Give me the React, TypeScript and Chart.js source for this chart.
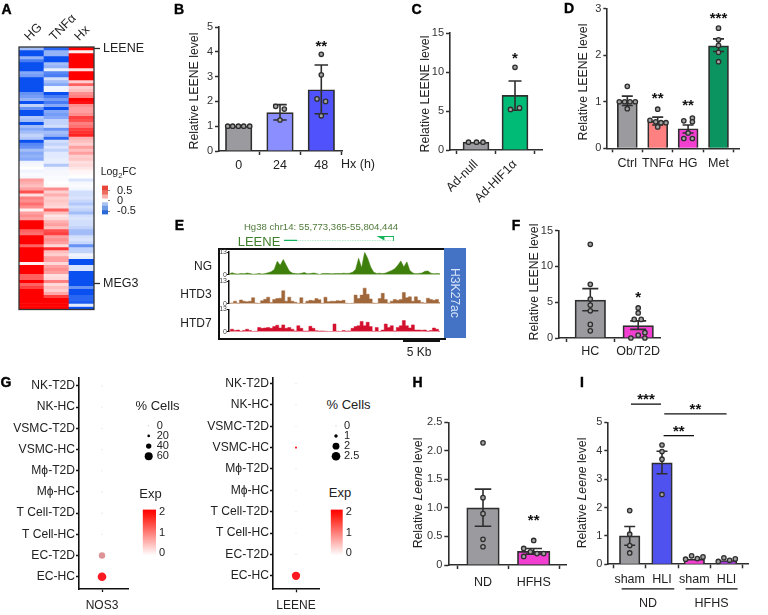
import React, { useEffect, useRef } from "react";
import Chart from "chart.js/auto";

const FONT = '"Liberation Sans", Arial, sans-serif';
Chart.defaults.font.family = FONT;
Chart.defaults.color = "#222";

/* ---------- A: heat map ---------- */
const heatColumns = ["HG", "TNFα", "Hx"];
const heatHG = [-0.3,-0.8,-0.8,-0.35,-0.6,-0.8,-0.85,-0.85,-0.4,-0.45,-0.9,-0.95,-0.95,-0.95,-0.95,-0.5,-0.45,-0.35,-0.85,-0.2,-0.5,-0.95,-0.95,-0.25,-0.3,-0.85,-0.3,-0.4,-0.3,-0.2,-0.25,-0.85,-0.55,-0.5,-0.3,-0.4,-0.35,-0.4,-0.05,-0.03,0,-0.05,-0.02,-0.03,0.3,0.25,0.2,0.3,0.55,0.1,0.4,0.35,0.45,0.35,0.05,0.3,0.35,0.3,0.95,1,0.9,0.5,0.45,1,1,1,0.5,1,1,1,1,0.95,0.05,1,1,1,0.5,0.5,0.85,0.5,0.6,0.8,1,1,1,1,1,1];
const heatTNF = [-0.7,-0.35,-0.35,-0.9,-0.9,-0.3,-0.35,-0.08,-0.55,-0.6,-0.15,-0.3,-0.4,-0.05,-0.05,-0.9,-0.6,-0.45,-0.6,-0.4,-0.8,-0.4,-0.45,-0.4,-0.2,-0.2,-0.15,-0.5,-0.3,-0.35,-0.7,-0.15,-0.2,-0.12,-0.2,-0.1,-0.1,-0.08,-0.08,-0.25,-0.05,-0.03,-0.03,-0.02,-0.02,0,0.02,0.35,0.15,0.25,0.15,0.18,0.15,0.12,0.5,0.2,0.08,0.12,0.25,0.3,0.2,0.55,0.6,0.3,0.35,0.3,0.12,0.65,0.2,0.15,0.3,0.3,0.12,0.3,0.35,0.3,0.1,0.12,0.4,0.12,0.2,0.15,0.28,0.6,1,1,1,1];
const heatHx = [1,0.05,1,1,1,1,0.9,0.1,1,1,0.9,0.15,0.5,0.15,0.2,0.35,0.4,1,0.75,0.35,0.3,0.3,0.35,0.6,0.55,0.4,0.45,0.6,0.65,0.7,0.25,0.2,0.15,0.3,0.2,0.3,0.15,0.18,0.1,0.12,0.08,0.03,0.02,0,-0.12,-0.03,-0.02,-0.04,-0.15,-0.15,-0.12,-0.18,-0.25,-0.15,-0.2,-0.3,-0.15,-0.12,-0.15,-0.15,-0.2,-0.3,-0.3,-0.15,-0.12,-0.18,-0.5,-0.2,-0.2,-0.05,-0.08,-0.95,-0.9,-0.12,-0.12,-1,-1,-1,-1,-1,-0.5,-1,-0.9,-0.7,-0.7,-0.75,-0.1,-0.85];
const heatLabels = ["LEENE", "MEG3"];
const heatLabelRows = [0.4, 79.3];
const fcSteps = [-0.65,-0.47,-0.25,-0.08,0.1,0.3,0.5,0.74];
const fcColors = ["#2a68d8","#6f9ae6","#a9c3f0","#ffffff","#f9b0a8","#ee6b60","#e8453a"];
const fcTicks = [-0.5, 0, 0.5];

/* ---------- B, C, D, F, H, I: bars ---------- */
const bCats = ["0", "24", "48"];
const bMeans = [1, 1.55, 2.47];
const bUpper = [1, 1.87, 3.47];
const bLower = [1, 1.25, 1.5];
const bDots = [[1,1,1,1,1],[1.8,1.69,1.25],[3.9,3.07,2.1,2,1.42]];

const cCats = ["Ad-null", "Ad-HIF1α"];
const cMeans = [1, 7];
const cUpper = [1, 8.85];
const cLower = [1, 5.1];
const cDots = [[1,1,1],[10.6,5.2,5.4]];

const dCats = ["Ctrl", "TNFα", "HG", "Met"];
const dMeans = [1.02, 0.58, 0.42, 2.2];
const dUpper = [1.12, 0.67, 0.5, 2.35];
const dLower = [0.92, 0.5, 0.33, 2.08];
const dDots = [[1.33,1,1,1,1,0.85],[0.84,0.6,0.57,0.55,0.55,0.46],[0.59,0.65,0.57,0.33,0.21,0.21],[2.58,2.33,2.21,2.06,1.86]];

const fCats = ["HC", "Ob/T2D"];
const fMeans = [5.3, 1.72];
const fUpper = [6.9, 2.4];
const fLower = [3.8, 1.2];
const fDots = [[13.1,7.5,5.45,4.6,3.8,1.9,1],[4.2,3.5,2.6,2.6,0.75,0.4,0,0]];

const hCats = ["ND", "HFHS"];
const hMeans = [1, 0.24];
const hUpper = [1.33, 0.29];
const hLower = [0.68, 0.19];
const hDots = [[2.14,1.18,0.9,0.45,0.32],[0.43,0.29,0.15,0.23,0.2,0.2]];

const iCats = ["sham", "HLI", "sham", "HLI"];
const iMeans = [1, 3.57, 0.18, 0.13];
const iUpper = [1.33, 3.98, 0.18, 0.13];
const iLower = [0.67, 3.19, 0.18, 0.13];
const iDots = [[1.89,1.06,0.66,0.4],[4.2,3.97,3.7,2.46],[0.18,0.3,0.2,0.26],[0.1,0.23,0.14,0.19]];

const GRAY = "#9b9b9f";
const PINK = "#f23fd2";

/* ---------- E: tracks ---------- */
const trackNG = [0.3,1.2,0.6,0.4,0.8,0.6,1,0.7,0.3,0.5,0.8,0.4,0.7,1.2,1.8,3,7.8,5.5,8.8,5.5,2.2,1,0.7,0.6,0.9,1.3,0.6,0.7,1,0.8,0.2,0.7,0.8,0.7,0.6,0.7,0.8,0.7,0.9,0.8,0.9,1.5,3,9.5,4,13,9.5,4.5,1.5,0.8,0.9,0.7,1,1.8,2.5,3.5,5.5,8,4.5,7.5,2.5,1,0.6,0.8,1,2,2.2,0.9,0.6,0.8,0.6];
const trackHTD3 = [0.2,0.5,1.5,0.4,2.2,1.5,1.2,1.5,3.5,0.4,0.3,1.8,2.6,3.8,0.8,2.5,3,3.2,7.5,1.5,3.8,1.5,0.9,0.3,3.5,0.2,1.5,2,1.8,3,2.4,0.3,3.8,1.2,1.5,1.4,1.8,1.6,2,0.3,0.2,0.3,5,3,5,9,5.5,2.8,0.4,0.3,3,6,2.5,0.5,1.5,2.5,2,2.5,6.5,3.5,4,1.5,4,2,0.8,0.4,3.2,2.5,2,2.5,0.8];
const trackHTD7 = [0.5,1.5,0.8,1,0.3,0.8,1.5,0.7,0.2,0.3,2.5,2,2.2,2.5,2,3,3.8,2.2,4,2,2.5,1.5,0.5,3.5,2,0.4,0.4,3.2,2,0.6,0.4,0.5,0.3,0.2,0.2,4.5,0.3,0.2,0.7,0.4,0.5,2,3,3.5,6,3.5,5.5,3,0.3,2.5,0.3,1,4.5,2.5,3.5,0.5,2.5,3.5,6.5,3.5,2.2,4,1,1,0.9,1,0.4,0.8,2.2,1.5,0.3];
const trackTicks = [0, 13];
const geneStart = 55773365;
const geneEnd = 55804444;
const geneExonEnd = 55777109;
const geneArrowTip = 55801000;

/* ---------- G: dot plots ---------- */
const dotRows = ["NK-T2D","NK-HC","VSMC-T2D","VSMC-HC","Mϕ-T2D","Mϕ-HC","T Cell-T2D","T Cell-HC","EC-T2D","EC-HC"];
const nos3Pct = [2,1,8,8,2,1,1,1,48,65];
const nos3Exp = [0,0,0,0,0,0,0,0,0.6,1.9];
const leenePct = [0.1,0.1,0.25,0.6,0.2,0.1,0.1,0.1,0.1,2.4];
const leeneExp = [0,0,0,2,0,0,0,0,0,1.9];
const nos3SizeLabels = ["0","20","40","60"];
const nos3SizeValues = [0,20,40,60];
const leeneSizeLabels = ["0","1","2","2.5"];
const leeneSizeValues = [0,1,2,2.5];
const expTicks = [0,1,2];

/* ---------- helpers ---------- */
const lerp = (a: number[], b: number[], t: number) =>
  `rgb(${a.map((v, i) => Math.round(v + (b[i] - v) * t)).join(",")})`;
const heatColor = (v: number) => {
  const t = Math.min(Math.abs(v) / 0.8, 1);
  return v >= 0 ? lerp([255,255,255],[255,0,0],t) : lerp([255,255,255],[10,80,240],t);
};
const expColor = (v: number) => {
  const t = Math.min(v / 2, 1);
  return t === 0 ? "#dcdcdc" : lerp([205,205,205],[255,16,24],t);
};

type R = { l: number; t: number; r: number; b: number };
const DARK = "#2e2e2e";
const noScale = { display: false };

const fitW = (w: number) => (s: any) => { s.width = w; };
const fitH = (h: number) => (s: any) => { s.height = h; };

type Part = { t: string; i?: boolean };
type BarSpec = {
  rect: R; plot: R; cats: string[]; centers: number[]; barW: number;
  means: number[]; upper: number[]; lower: number[]; dots: number[][]; jitter: number[][];
  colors: string[]; yMax: number; yStep: number; ylabel: Part[]; ylabelAt: number[];
  stars: { cat: number; value: number; text: string }[]; cap: number; rot?: number; xPad?: number;
  brackets?: { from: number; to: number; value: number; text: string }[];
  groups?: { from: number; to: number; text: string }[];
};

function drawParts(ctx: any, parts: Part[], cx: number, cy: number, size: number) {
  ctx.save();
  ctx.translate(cx, cy);
  ctx.rotate(-Math.PI / 2);
  ctx.fillStyle = "#222";
  ctx.textBaseline = "middle";
  ctx.textAlign = "left";
  const fonts = parts.map(p => `${p.i ? "italic " : ""}${size}px ${FONT}`);
  let total = 0;
  parts.forEach((p, i) => { ctx.font = fonts[i]; total += ctx.measureText(p.t).width; });
  let x = -total / 2;
  parts.forEach((p, i) => { ctx.font = fonts[i]; ctx.fillText(p.t, x, 0); x += ctx.measureText(p.t).width; });
  ctx.restore();
}

function barConfig(s: BarSpec) {
  const sp = s.centers.length > 1 ? s.centers[1] - s.centers[0] : 40;
  const c0 = s.centers[0];
  const H = s.rect.b - s.rect.t;
  const toX = (px: number) => (px - c0) / sp;
  const decor = {
    id: "decor",
    afterDatasetDraw(chart: any, args: any) {
      if (args.meta.type !== "bar") return;
      const { ctx, scales: { x, y } } = chart;
      ctx.save();
      ctx.strokeStyle = DARK;
      ctx.lineWidth = 1.6;
      s.means.forEach((_, i) => {
        if (s.upper[i] === s.lower[i]) return;
        const px = x.getPixelForValue(i);
        const u = y.getPixelForValue(s.upper[i]);
        const m = y.getPixelForValue(s.lower[i]);
        ctx.beginPath();
        ctx.moveTo(px, u); ctx.lineTo(px, m);
        ctx.moveTo(px - s.cap / 2, u); ctx.lineTo(px + s.cap / 2, u);
        ctx.moveTo(px - s.cap / 2, m); ctx.lineTo(px + s.cap / 2, m);
        ctx.stroke();
      });
      ctx.restore();
    },
    afterDraw(chart: any) {
      const { ctx, scales: { x, y } } = chart;
      drawParts(ctx, s.ylabel, s.ylabelAt[0] - s.rect.l, s.ylabelAt[1] - s.rect.t, 12.3);
      ctx.save();
      ctx.fillStyle = "#111";
      ctx.textAlign = "center";
      ctx.textBaseline = "middle";
      ctx.font = `bold 15px ${FONT}`;
      s.stars.forEach(st => ctx.fillText(st.text, x.getPixelForValue(st.cat), y.getPixelForValue(st.value) + 3));
      ctx.strokeStyle = "#111";
      ctx.lineWidth = 1.3;
      (s.brackets || []).forEach(b => {
        const py = y.getPixelForValue(b.value);
        const a = x.getPixelForValue(b.from), e = x.getPixelForValue(b.to);
        ctx.beginPath(); ctx.moveTo(a, py); ctx.lineTo(e, py); ctx.stroke();
        ctx.fillText(b.text, (a + e) / 2, py - 4);
      });
      ctx.font = `12.5px ${FONT}`;
      ctx.fillStyle = "#222";
      (s.groups || []).forEach(g => {
        const py = y.getPixelForValue(0) + 24.5;
        const a = x.getPixelForValue(g.from), e = x.getPixelForValue(g.to);
        ctx.beginPath(); ctx.moveTo(a, py); ctx.lineTo(e, py); ctx.stroke();
        ctx.fillText(g.text, (a + e) / 2, py + 15);
      });
      ctx.restore();
    },
  };
  const dotData: any[] = [];
  s.dots.forEach((arr, i) => arr.forEach((v, j) => dotData.push({ x: i + s.jitter[i][j] / sp, y: v })));
  return {
    type: "bar",
    plugins: [decor],
    data: {
      datasets: [
        {
          type: "scatter", order: 0, clip: false, data: dotData,
          pointRadius: 2.2, pointBackgroundColor: "#a3a3a3", pointBorderColor: DARK, pointBorderWidth: 1.3,
        },
        {
          type: "bar", order: 1, clip: false, grouped: false, barThickness: s.barW,
          data: s.means.map((m, i) => ({ x: i, y: m })),
          backgroundColor: s.colors, borderColor: DARK, borderWidth: 1.7,
        },
      ],
    },
    options: {
      animation: false, responsive: false, events: [],
      layout: { padding: { top: s.plot.t - s.rect.t, right: s.rect.r - s.plot.r, left: 0, bottom: 0 } },
      plugins: { legend: { display: false }, tooltip: { enabled: false } },
      scales: {
        x: {
          type: "linear", offset: false, min: toX(s.plot.l), max: toX(s.plot.r),
          afterFit: fitH(H - (s.plot.b - s.rect.t)),
          afterBuildTicks: (a: any) => { a.ticks = s.cats.map((_, i) => ({ value: i })); },
          border: { color: DARK, width: 1.6 },
          grid: { drawOnChartArea: false, tickLength: 4, tickWidth: 1.5, tickColor: DARK },
          ticks: {
            autoSkip: false, minRotation: s.rot || 0, maxRotation: s.rot || 0, padding: s.xPad ?? 3,
            font: { size: 12.5 }, color: "#222",
            callback: (v: number) => s.cats[v],
          },
        },
        y: {
          min: 0, max: s.yMax,
          afterFit: fitW(s.plot.l - s.rect.l),
          border: { color: DARK, width: 1.6 },
          grid: { drawOnChartArea: false, tickLength: 4, tickWidth: 1.5, tickColor: DARK },
          ticks: { stepSize: s.yStep, padding: 2, font: { size: 11 }, color: "#333" },
        },
      },
    },
  };
}

function heatConfig(rect: R, plot: R) {
  const frame = {
    id: "frame",
    afterDraw(chart: any) {
      const { ctx, chartArea: a } = chart;
      ctx.save();
      ctx.strokeStyle = "#333";
      ctx.lineWidth = 1.3;
      ctx.strokeRect(a.left, a.top, a.right - a.left, a.bottom - a.top);
      ctx.restore();
    },
  };
  return {
    type: "bar",
    plugins: [frame],
    data: {
      labels: heatColumns,
      datasets: heatHG.map((_, r) => ({
        data: heatColumns.map(() => 1),
        backgroundColor: [heatColor(heatHG[r]), heatColor(heatTNF[r]), heatColor(heatHx[r])],
        barPercentage: 1, categoryPercentage: 1, borderWidth: 0,
      })),
    },
    options: {
      animation: false, responsive: false, events: [],
      layout: { padding: { left: plot.l - rect.l, bottom: rect.b - plot.b, top: 0, right: 0 } },
      plugins: { legend: { display: false }, tooltip: { enabled: false } },
      scales: {
        x: {
          position: "top", stacked: true,
          afterFit: fitH(plot.t - rect.t),
          border: { display: false }, grid: { display: false, drawTicks: false },
          ticks: { minRotation: 45, maxRotation: 45, autoSkip: false, padding: 3, labelOffset: 6, font: { size: 12.5 }, color: "#222" },
        },
        y: {
          position: "right", stacked: true, reverse: true, min: 0, max: heatHG.length,
          afterFit: fitW(rect.r - plot.r),
          afterBuildTicks: (a: any) => { a.ticks = heatLabelRows.map(value => ({ value })); },
          border: { display: false },
          grid: { drawOnChartArea: false, tickLength: 6, tickWidth: 1.3, tickColor: DARK },
          ticks: {
            autoSkip: false, padding: 3, font: { size: 12.5 }, color: "#222",
            callback: (v: number) => heatLabels[heatLabelRows.indexOf(v)],
          },
        },
      },
    },
  };
}

function fcBarConfig(rect: R, plot: R) {
  return {
    type: "bar",
    data: {
      labels: [""],
      datasets: fcColors.map((c, i) => ({
        data: [[fcSteps[i], fcSteps[i + 1]]], backgroundColor: c, grouped: false,
        barPercentage: 1, categoryPercentage: 1, borderWidth: 0,
      })),
    },
    options: {
      animation: false, responsive: false, events: [],
      layout: { padding: { left: plot.l - rect.l, top: plot.t - rect.t, bottom: rect.b - plot.b, right: 0 } },
      plugins: { legend: { display: false }, tooltip: { enabled: false } },
      scales: {
        x: noScale,
        y: {
          position: "right", min: fcSteps[0], max: fcSteps[fcSteps.length - 1],
          afterFit: fitW(rect.r - plot.r),
          afterBuildTicks: (a: any) => { a.ticks = fcTicks.map(value => ({ value })); },
          border: { display: false },
          grid: { drawOnChartArea: false, tickLength: 2, tickWidth: 1, tickColor: "#888" },
          ticks: { padding: 7, font: { size: 11 }, color: "#222", callback: (v: number) => String(v) },
        },
      },
    },
  };
}

function trackConfig(rect: R, plot: R, values: number[], color: string, stepped: any) {
  return {
    type: "line",
    data: {
      datasets: [{
        data: values.map((y, x) => ({ x, y })), fill: "origin", backgroundColor: color, borderColor: color,
        borderWidth: 0.5, pointRadius: 0, tension: 0, stepped,
      }],
    },
    options: {
      animation: false, responsive: false, events: [],
      layout: { padding: { top: plot.t - rect.t, bottom: rect.b - plot.b, right: rect.r - plot.r, left: 0 } },
      plugins: { legend: { display: false }, tooltip: { enabled: false } },
      scales: {
        x: { type: "linear", display: false, min: 0, max: values.length - 1 },
        y: {
          min: 0, max: 13,
          afterFit: fitW(plot.l - rect.l),
          afterBuildTicks: (a: any) => { a.ticks = trackTicks.map(value => ({ value })); },
          border: { color: "#111", width: 1.5 },
          grid: { drawOnChartArea: false, tickLength: 2, tickWidth: 1, tickColor: "#111" },
          ticks: { padding: 0, font: { size: 7 }, color: "#444", callback: (v: number) => String(v) },
        },
      },
    },
  };
}

function geneConfig(rect: R, plot: R) {
  const G = "#12b35a";
  return {
    type: "line",
    data: {
      datasets: [
        { data: [{ x: geneStart, y: 0 }, { x: geneExonEnd, y: 0 }], borderColor: G, borderWidth: 2.4, pointRadius: 0 },
        { data: [{ x: geneExonEnd, y: 0 }, { x: geneEnd, y: 0 }], borderColor: "#6fd79b", borderWidth: 1.2, borderDash: [1.5, 1], pointRadius: 0 },
        {
          data: [{ x: geneEnd, y: 0 }, { x: geneEnd, y: 1 }, { x: geneArrowTip, y: 1 }],
          borderColor: G, borderWidth: 1.8, pointRadius: [0, 0, 3.5], pointStyle: "triangle", pointRotation: -90,
          pointBackgroundColor: G, pointBorderColor: G,
        },
      ],
    },
    options: {
      animation: false, responsive: false, events: [],
      layout: { padding: { left: plot.l - rect.l, top: plot.t - rect.t, bottom: rect.b - plot.b, right: rect.r - plot.r } },
      plugins: { legend: { display: false }, tooltip: { enabled: false } },
      scales: {
        x: { type: "linear", display: false, min: geneStart, max: geneEnd },
        y: { display: false, min: 0, max: 1 },
      },
    },
  };
}

function dotConfig(rect: R, plot: R, xAt: number, rowTop: number, rowBottom: number, pct: number[], exp: number[], k: number, xLabel: string) {
  const sp = (rowBottom - rowTop) / (dotRows.length - 1);
  const last = dotRows.length - 1;
  const xUnit = plot.r - plot.l;
  return {
    type: "bubble",
    data: {
      datasets: [{
        clip: false,
        data: pct.map((p, i) => ({ x: 0, y: last - i, r: Math.max(0.6, p * k) })),
        backgroundColor: exp.map(expColor), borderWidth: 0,
      }],
    },
    options: {
      animation: false, responsive: false, events: [],
      layout: { padding: { top: plot.t - rect.t, right: rect.r - plot.r, left: 0, bottom: 0 } },
      plugins: { legend: { display: false }, tooltip: { enabled: false } },
      scales: {
        x: {
          type: "linear", min: (plot.l - xAt) / xUnit, max: (plot.r - xAt) / xUnit,
          afterFit: fitH(rect.b - plot.b),
          afterBuildTicks: (a: any) => { a.ticks = [{ value: 0 }]; },
          border: { color: "#111", width: 1.6 },
          grid: { drawOnChartArea: false, tickLength: 3, tickWidth: 1.3, tickColor: "#111" },
          ticks: { padding: 6, font: { size: 12 }, color: "#222", callback: () => xLabel },
        },
        y: {
          min: -(plot.b - rowBottom) / sp, max: last + (rowTop - plot.t) / sp,
          afterFit: fitW(plot.l - rect.l),
          afterBuildTicks: (a: any) => { a.ticks = dotRows.map((_, i) => ({ value: i })); },
          border: { color: "#111", width: 1.6 },
          grid: { drawOnChartArea: false, tickLength: 3, tickWidth: 1.3, tickColor: "#111" },
          ticks: { autoSkip: false, padding: 1, font: { size: 12.1 }, color: "#222", callback: (v: number) => dotRows[last - v] },
        },
      },
    },
  };
}

function sizeConfig(rect: R, cx: number, yTop: number, yBottom: number, labels: string[], values: number[], k: number) {
  const sp = (yBottom - yTop) / (labels.length - 1);
  const last = labels.length - 1;
  const plot = { l: cx - 6, r: cx + 6, t: yTop - sp / 2, b: yBottom + sp / 2 };
  return {
    type: "bubble",
    data: {
      datasets: [{
        clip: false,
        data: values.map((v, i) => ({ x: 0, y: last - i, r: Math.max(0.5, v * k) })),
        backgroundColor: values.map(v => (v === 0 ? "#aaaaaa" : "#000000")), borderWidth: 0,
      }],
    },
    options: {
      animation: false, responsive: false, events: [],
      layout: { padding: { left: plot.l - rect.l, top: plot.t - rect.t, bottom: rect.b - plot.b, right: 0 } },
      plugins: { legend: { display: false }, tooltip: { enabled: false } },
      scales: {
        x: { type: "linear", display: false, min: -1, max: 1 },
        y: {
          position: "right", min: -0.5, max: last + 0.5,
          afterFit: fitW(rect.r - plot.r),
          afterBuildTicks: (a: any) => { a.ticks = labels.map((_, i) => ({ value: i })); },
          border: { display: false }, grid: { display: false, drawTicks: false },
          ticks: { autoSkip: false, padding: 2, font: { size: 11 }, color: "#222", callback: (v: number) => labels[last - v] },
        },
      },
    },
  };
}

function expConfig(rect: R, plot: R, top2: number, bottom0: number) {
  const u = (bottom0 - top2) / 2;
  const yMin = -(plot.b - bottom0) / u, yMax = 2 + (top2 - plot.t) / u;
  return {
    type: "bar",
    data: {
      labels: [""],
      datasets: [{
        data: [[yMin, yMax]], barPercentage: 1, categoryPercentage: 1, borderWidth: 0,
        backgroundColor: (c: any) => {
          const a = c.chart.chartArea;
          if (!a) return "#ff0000";
          const g = c.chart.ctx.createLinearGradient(0, a.top, 0, a.bottom);
          g.addColorStop(0, "#ff0000");
          g.addColorStop(0.12, "#ff1a10");
          g.addColorStop(1, "#ffffff");
          return g;
        },
      }],
    },
    options: {
      animation: false, responsive: false, events: [],
      layout: { padding: { left: plot.l - rect.l, top: plot.t - rect.t, bottom: rect.b - plot.b, right: 0 } },
      plugins: { legend: { display: false }, tooltip: { enabled: false } },
      scales: {
        x: noScale,
        y: {
          position: "right", min: yMin, max: yMax,
          afterFit: fitW(rect.r - plot.r),
          afterBuildTicks: (a: any) => { a.ticks = expTicks.map(value => ({ value })); },
          border: { display: false }, grid: { display: false, drawTicks: false },
          ticks: { padding: 3, font: { size: 11 }, color: "#222", callback: (v: number) => String(v) },
        },
      },
    },
  };
}

/* ---------- panels ---------- */
const relLEENE: Part[] = [{ t: "Relative LEENE level" }];
const relLeene: Part[] = [{ t: "Relative " }, { t: "Leene", i: true }, { t: " level" }];

const barSpecs: BarSpec[] = [
  {
    rect: { l: 185, t: 10, r: 360, b: 185 }, plot: { l: 219, t: 27, r: 342, b: 151 },
    cats: bCats, centers: [238.7, 280, 321], barW: 26.5, means: bMeans, upper: bUpper, lower: bLower, dots: bDots,
    jitter: [[-11,-6,-0.3,5,11],[-4.3,4.3,0],[0,0,-4.3,4.3,0]],
    colors: [GRAY, "#8b8eff", "#5052fb"], yMax: 5, yStep: 1, ylabel: relLEENE, ylabelAt: [195, 91],
    stars: [{ cat: 2, value: 4.34, text: "**" }], cap: 13.5,
  },
  {
    rect: { l: 420, t: 15, r: 555, b: 215 }, plot: { l: 450, t: 33, r: 542, b: 150 },
    cats: cCats, centers: [476, 515], barW: 26, means: cMeans, upper: cUpper, lower: cLower, dots: cDots,
    jitter: [[-7.5,0.5,7],[0,-4.5,4.5]],
    colors: [GRAY, "#00bb76"], yMax: 15, yStep: 5, ylabel: relLEENE, ylabelAt: [426, 94],
    stars: [{ cat: 1, value: 12.1, text: "*" }], cap: 13, rot: 45,
  },
  {
    rect: { l: 575, t: 0, r: 768, b: 175 }, plot: { l: 607.3, t: 7.3, r: 739, b: 148.3 },
    cats: dCats, centers: [627.3, 657.7, 688.2, 718.7], barW: 20, means: dMeans, upper: dUpper, lower: dLower, dots: dDots,
    jitter: [[0,-8,-2.7,2.7,8,0],[0,-7.7,-2,3.3,8.3,0],[-4.3,4.3,4.3,0,-4.3,4.3],[0,0,0,0,0]],
    colors: [GRAY, "#ff8080", PINK, "#0b9460"], yMax: 3, yStep: 1, ylabel: relLEENE, ylabelAt: [584, 82],
    stars: [{ cat: 1, value: 1.12, text: "**" }, { cat: 2, value: 0.97, text: "**" }, { cat: 3, value: 2.85, text: "***" }], cap: 11, xPad: 4,
  },
  {
    rect: { l: 525, t: 215, r: 680, b: 365 }, plot: { l: 559, t: 230.7, r: 660, b: 338 },
    cats: fCats, centers: [590.3, 638.2], barW: 30.5, means: fMeans, upper: fUpper, lower: fLower, dots: fDots,
    jitter: [[0,0,0,0,0,0,0],[0,0,-4,3,6.7,0,-7.3,6.7]],
    colors: [GRAY, PINK], yMax: 15, yStep: 5, ylabel: relLEENE, ylabelAt: [535, 282],
    stars: [{ cat: 1, value: 6.05, text: "*" }], cap: 16, xPad: 2,
  },
  {
    rect: { l: 410, t: 405, r: 578, b: 610 }, plot: { l: 448.3, t: 422.3, r: 566, b: 565 },
    cats: hCats, centers: [483, 533.7], barW: 32.5, means: hMeans, upper: hUpper, lower: hLower, dots: hDots,
    jitter: [[0,0,0,0,0],[0,-10,-10,-3.3,3.3,10]],
    colors: [GRAY, PINK], yMax: 2.5, yStep: 0.5, ylabel: relLeene, ylabelAt: [419, 493],
    stars: [{ cat: 1, value: 0.82, text: "**" }], cap: 16.5, xPad: 6,
  },
  {
    rect: { l: 575, t: 385, r: 768, b: 615 }, plot: { l: 608.3, t: 422.3, r: 748.3, b: 564.3 },
    cats: iCats, centers: [629.7, 662, 694, 726], barW: 20.5, means: iMeans, upper: iUpper, lower: iLower, dots: iDots,
    jitter: [[0,0,0,0],[0,0,0,0],[-8.7,-2.7,3,8.7],[-8.3,-2.7,3,8.7]],
    colors: [GRAY, "#5052f0", PINK, "#a63fd2"], yMax: 5, yStep: 1, ylabel: relLeene, ylabelAt: [582.7, 493],
    stars: [], cap: 11, xPad: 4,
    brackets: [
      { from: 0.04, to: 0.97, value: 5.64, text: "***" },
      { from: 1.07, to: 3.0, value: 5.3, text: "**" },
      { from: 1.05, to: 1.99, value: 4.53, text: "**" },
    ],
    groups: [{ from: -0.25, to: 1.38, text: "ND" }, { from: 1.73, to: 3.34, text: "HFHS" }],
  },
];

const charts: { rect: R; make: () => any }[] = [
  ...barSpecs.map(s => ({ rect: s.rect, make: () => barConfig(s) })),
  { rect: { l: 0, t: 0, r: 150, b: 320 }, make: () => heatConfig({ l: 0, t: 0, r: 150, b: 320 }, { l: 19, t: 47, r: 94, b: 311 }) },
  { rect: { l: 98, t: 172, r: 145, b: 228 }, make: () => fcBarConfig({ l: 98, t: 172, r: 145, b: 228 }, { l: 102, t: 177, r: 108, b: 223 }) },
  { rect: { l: 210, t: 248, r: 442, b: 279 }, make: () => trackConfig({ l: 210, t: 248, r: 442, b: 279 }, { l: 229, t: 251.7, r: 440, b: 276.7 }, trackNG, "#3f7f0c", false) },
  { rect: { l: 210, t: 277, r: 442, b: 308 }, make: () => trackConfig({ l: 210, t: 277, r: 442, b: 308 }, { l: 229, t: 281, r: 440, b: 305.7 }, trackHTD3, "#a0673a", "middle") },
  { rect: { l: 210, t: 305, r: 442, b: 336 }, make: () => trackConfig({ l: 210, t: 305, r: 442, b: 336 }, { l: 229, t: 309.3, r: 440, b: 334 }, trackHTD7, "#d3102e", "middle") },
  { rect: { l: 278, t: 230, r: 400, b: 248 }, make: () => geneConfig({ l: 278, t: 230, r: 400, b: 248 }, { l: 283, t: 236, r: 394, b: 241 }) },
  { rect: { l: 0, t: 370, r: 135, b: 615 }, make: () => dotConfig({ l: 0, t: 370, r: 135, b: 615 }, { l: 79, t: 377, r: 128, b: 589 }, 102, 384.7, 576.7, nos3Pct, nos3Exp, 1 / 15, "NOS3") },
  { rect: { l: 195, t: 370, r: 325, b: 615 }, make: () => dotConfig({ l: 195, t: 370, r: 325, b: 615 }, { l: 273, t: 377, r: 319, b: 589.3 }, 296, 382.3, 575.7, leenePct, leeneExp, 1.72, "LEENE") },
  { rect: { l: 138, t: 412, r: 185, b: 470 }, make: () => sizeConfig({ l: 138, t: 412, r: 185, b: 470 }, 148.7, 424, 458.7, nos3SizeLabels, nos3SizeValues, 1 / 15) },
  { rect: { l: 325, t: 412, r: 375, b: 470 }, make: () => sizeConfig({ l: 325, t: 412, r: 375, b: 470 }, 336, 426, 457.7, leeneSizeLabels, leeneSizeValues, 1.72) },
  { rect: { l: 138, t: 500, r: 180, b: 565 }, make: () => expConfig({ l: 138, t: 500, r: 180, b: 565 }, { l: 142.7, t: 505, r: 156, b: 558 }, 507.7, 555.7) },
  { rect: { l: 326, t: 500, r: 365, b: 565 }, make: () => expConfig({ l: 326, t: 500, r: 365, b: 565 }, { l: 330.7, t: 504, r: 342.7, b: 557 }, 507, 554.7) },
];

function ChartBox({ rect, make }: { rect: R; make: () => any }) {
  const ref = useRef<HTMLCanvasElement | null>(null);
  useEffect(() => {
    const c = new Chart(ref.current as any, make());
    return () => c.destroy();
  }, []);
  return (
    <canvas
      ref={ref}
      width={rect.r - rect.l}
      height={rect.b - rect.t}
      style={{ position: "absolute", left: rect.l, top: rect.t }}
    />
  );
}

function T({ x, y, size = 12, bold, color = "#222", rot, children }: any) {
  return (
    <div
      style={{
        position: "absolute", left: x, top: y, whiteSpace: "nowrap", lineHeight: 1,
        transform: `translate(-50%,-50%)${rot ? ` rotate(${rot}deg)` : ""}`,
        fontFamily: FONT, fontSize: size, fontWeight: bold ? 700 : 400, color,
        WebkitTextStroke: bold ? "0.4px #000" : undefined,
      }}
    >
      {children}
    </div>
  );
}

const letters: [string, number, number][] = [
  ["A", 6.5, 9], ["B", 179, 9], ["C", 416.5, 9], ["D", 569, 8], ["E", 179.5, 225],
  ["F", 516, 225], ["G", 6, 382], ["H", 417.5, 382], ["I", 582, 382],
];

export default function App() {
  return (
    <div style={{ position: "absolute", left: 0, top: 0, width: 768, height: 615, overflow: "hidden", background: "#fff" }}>
      <div style={{ position: "absolute", left: 217.5, top: 248, width: 224, height: 88, border: "2px solid #111" }} />
      <div style={{ position: "absolute", left: 443.5, top: 248, width: 22.5, height: 90, background: "#4472c4" }} />
      <div style={{ position: "absolute", left: 403, top: 340, width: 37, height: 1.5, background: "#111" }} />
      {charts.map((c, i) => <ChartBox key={i} rect={c.rect} make={c.make} />)}
      {letters.map(([t, x, y]) => <T key={t} x={x} y={y} size={14} bold color="#000">{t}</T>)}
      <T x={358} y={164} size={12.5}>Hx (h)</T>
      <T x={118.5} y={170.7} size={10.5}>Log<sub style={{ fontSize: 7.5, lineHeight: 0 }}>2</sub>FC</T>
      <T x={321} y={226.7} size={9.6} color="#4f7a3a">Hg38 chr14: 55,773,365-55,804,444</T>
      <T x={259} y={241} size={13} color="#3f7f2a">LEENE</T>
      <T x={203} y={266} size={12}>NG</T>
      <T x={196} y={294.3} size={12}>HTD3</T>
      <T x={196} y={323} size={12}>HTD7</T>
      <T x={455} y={293} size={12.1} color="#d8e4fa" rot={90}>H3K27ac</T>
      <T x={419} y={352} size={12}>5 Kb</T>
      <T x={157.5} y={405} size={13}>% Cells</T>
      <T x={150.5} y={492.7} size={13}>Exp</T>
      <T x={348.5} y={404} size={13}>% Cells</T>
      <T x={340} y={491.7} size={13}>Exp</T>
    </div>
  );
}
